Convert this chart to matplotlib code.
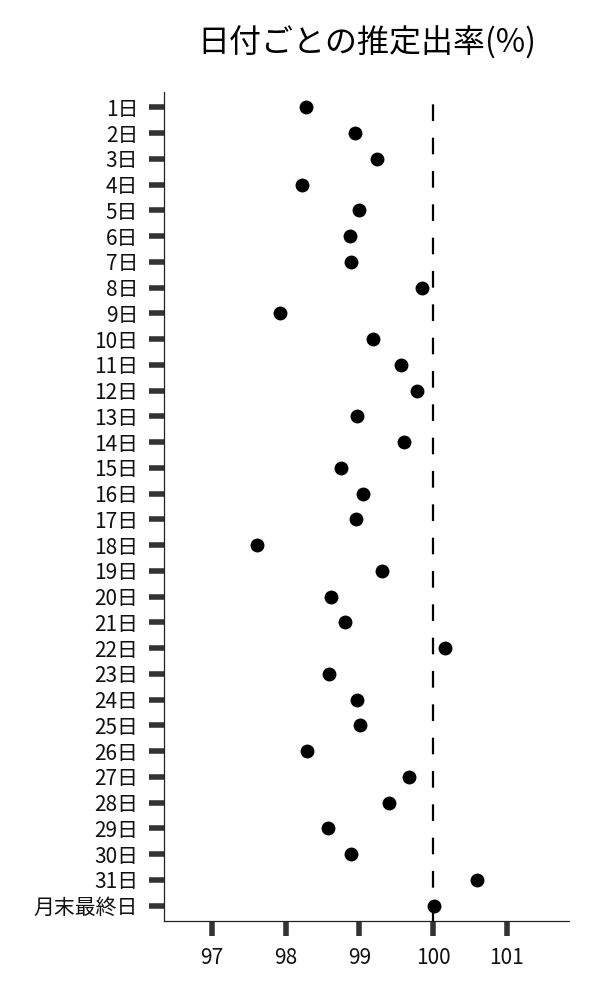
import matplotlib
matplotlib.use("Agg")
import matplotlib.pyplot as plt

plt.rcParams["font.family"] = ["Noto Sans CJK JP", "DejaVu Sans"]

# categories (top to bottom) and estimated rates (%)
DAYS = [f"{d}日" for d in range(1, 32)] + ["月末最終日"]
RATES = [
    98.28, 98.94, 99.24, 98.23, 98.99, 98.87, 98.89, 99.85, 97.93, 99.18,
    99.57, 99.78, 98.97, 99.61, 98.75, 99.05, 98.95, 97.61, 99.31, 98.62,
    98.81, 100.16, 98.59, 98.97, 99.01, 98.29, 99.67, 99.41, 98.58, 98.89,
    100.60, 100.02,
]
XTICKS = [97, 98, 99, 100, 101]
REF_LINE = 100

TICK_COLOR = "#333333"

fig = plt.figure(figsize=(6, 10), dpi=100)
ax = fig.add_axes([0.274, 0.079, 0.675, 0.829])

ypos = list(range(len(DAYS)))
ax.axvline(REF_LINE, color="black", linewidth=1.6, dashes=(7.5, 7.5), zorder=1)
ax.scatter(RATES, ypos, s=100, color="black", zorder=3, linewidths=0)

ax.set_yticks(ypos)
ax.set_yticklabels(DAYS)
ax.set_ylim(len(DAYS) - 1 + 0.6, -0.6)
ax.set_xticks(XTICKS)
ax.set_xlim(96.357, 101.85)

for side in ("top", "right"):
    ax.spines[side].set_visible(False)
for side in ("left", "bottom"):
    ax.spines[side].set_linewidth(0.9)
    ax.spines[side].set_color("#222222")

ax.tick_params(axis="both", length=10.8, width=4, color=TICK_COLOR,
               labelsize=15, labelcolor="#111111", pad=8)

ax.set_title("日付ごとの推定出率(%)", fontsize=23, pad=28)

fig.savefig("out.png", dpi=100)
